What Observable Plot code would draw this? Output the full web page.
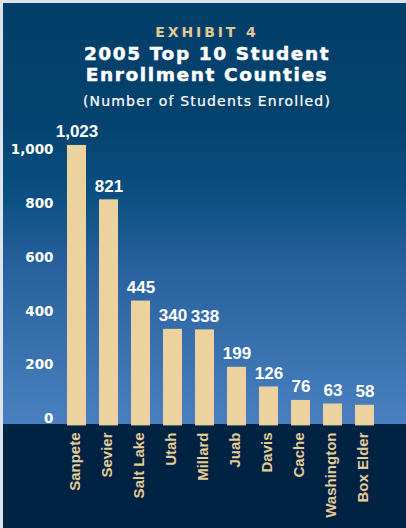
<!DOCTYPE html>
<html>
<head>
<meta charset="utf-8">
<script src="https://cdn.jsdelivr.net/npm/d3@7"></script>
<script src="https://cdn.jsdelivr.net/npm/@observablehq/plot@0.6"></script>
<style>
  html, body { margin: 0; padding: 0; }
  body { width: 406px; height: 528px; background: #dde4ec; overflow: hidden; position: relative; }
  #panel {
    position: absolute; left: 3px; top: 3px; width: 403px; height: 525px;
    background: linear-gradient(to bottom,
      #033e6a 0px, #04436f 120px, #0a4f80 190px, #2a62a0 270px, #3a72b0 350px, #4a80c0 421px,
      #012343 421px, #012343 525px);
  }
  .t { position: absolute; left: 0; width: 408px; text-align: center; white-space: nowrap; }
  #ex { top: 22px; font: bold 14px "DejaVu Sans"; line-height: 14px; color: #e3c994; letter-spacing: 2.9px; }
  #t1 { top: 42px; font: bold 18.5px "DejaVu Sans"; line-height: 18.5px; color: #fff; letter-spacing: 1.6px; -webkit-text-stroke: 0.5px #fff; }
  #t2 { top: 63px; font: bold 18.5px "DejaVu Sans"; line-height: 18.5px; color: #fff; letter-spacing: 1.6px; -webkit-text-stroke: 0.5px #fff; }
  #sub { top: 91px; font: 14px "DejaVu Sans"; line-height: 14px; color: #fff; letter-spacing: 1.2px; -webkit-text-stroke: 0.2px #fff; }
  #chart { position: absolute; left: 0; top: 117px; }
</style>
</head>
<body>
<div id="panel">
  <div class="t" id="ex">EXHIBIT 4</div>
  <div class="t" id="t1">2005 Top 10 Student</div>
  <div class="t" id="t2">Enrollment Counties</div>
  <div class="t" id="sub">(Number of Students Enrolled)</div>
  <div id="chart"></div>
</div>
<script>
const counties = ["Sanpete", "Sevier", "Salt Lake", "Utah", "Millard", "Juab", "Davis", "Cache", "Washington", "Box Elder"];
const students = [1023, 821, 445, 340, 338, 199, 126, 76, 63, 58];
const yTicks = [0, 200, 400, 600, 800, 1000];

const data = counties.map((c, i) => ({county: c, value: students[i]}));
const fmt = d3.format(",");

const plot = Plot.plot({
  width: 403,
  height: 408,
  marginLeft: 57.5,
  marginRight: 25.5,
  marginTop: 4.2,
  marginBottom: 107.6,
  style: {background: "transparent", color: "white", overflow: "visible"},
  x: {domain: counties, paddingInner: 0.406, paddingOuter: 0.203, axis: null},
  y: {domain: [0, 1100]},
  marks: [
    Plot.axisY({
      ticks: yTicks, tickSize: 0, tickPadding: 7.5, label: null,
      tickFormat: fmt, fontSize: 13.5, fontFamily: "DejaVu Sans", fontWeight: "bold",
      fill: "white", dy: -2
    }),
    Plot.barY(data, {x: "county", y: "value", fill: "#ecd29e", insetBottom: -5}),
    Plot.text(data, {
      x: "county", y: "value", text: d => fmt(d.value), ariaLabel: "values",
      lineAnchor: "bottom", dy: -8, fill: "white",
      fontFamily: "Liberation Sans", fontWeight: "bold", fontSize: 17
    }),
    Plot.text(data, {
      x: "county", y: () => 0, text: "county",
      rotate: -90, textAnchor: "end", lineAnchor: "bottom",
      dy: 11.6, dx: 2.5, fill: "#e6cc98",
      fontFamily: "Liberation Sans", fontWeight: "bold", fontSize: 15
    })
  ]
});
// condense the value labels horizontally (no condensed font installed)
plot.querySelectorAll('g[aria-label="values"] text').forEach(t => {
  const tr = t.getAttribute("transform") || "";
  t.setAttribute("transform", tr + " scale(0.75,1)");
});
document.getElementById("chart").appendChild(plot);
</script>
</body>
</html>
